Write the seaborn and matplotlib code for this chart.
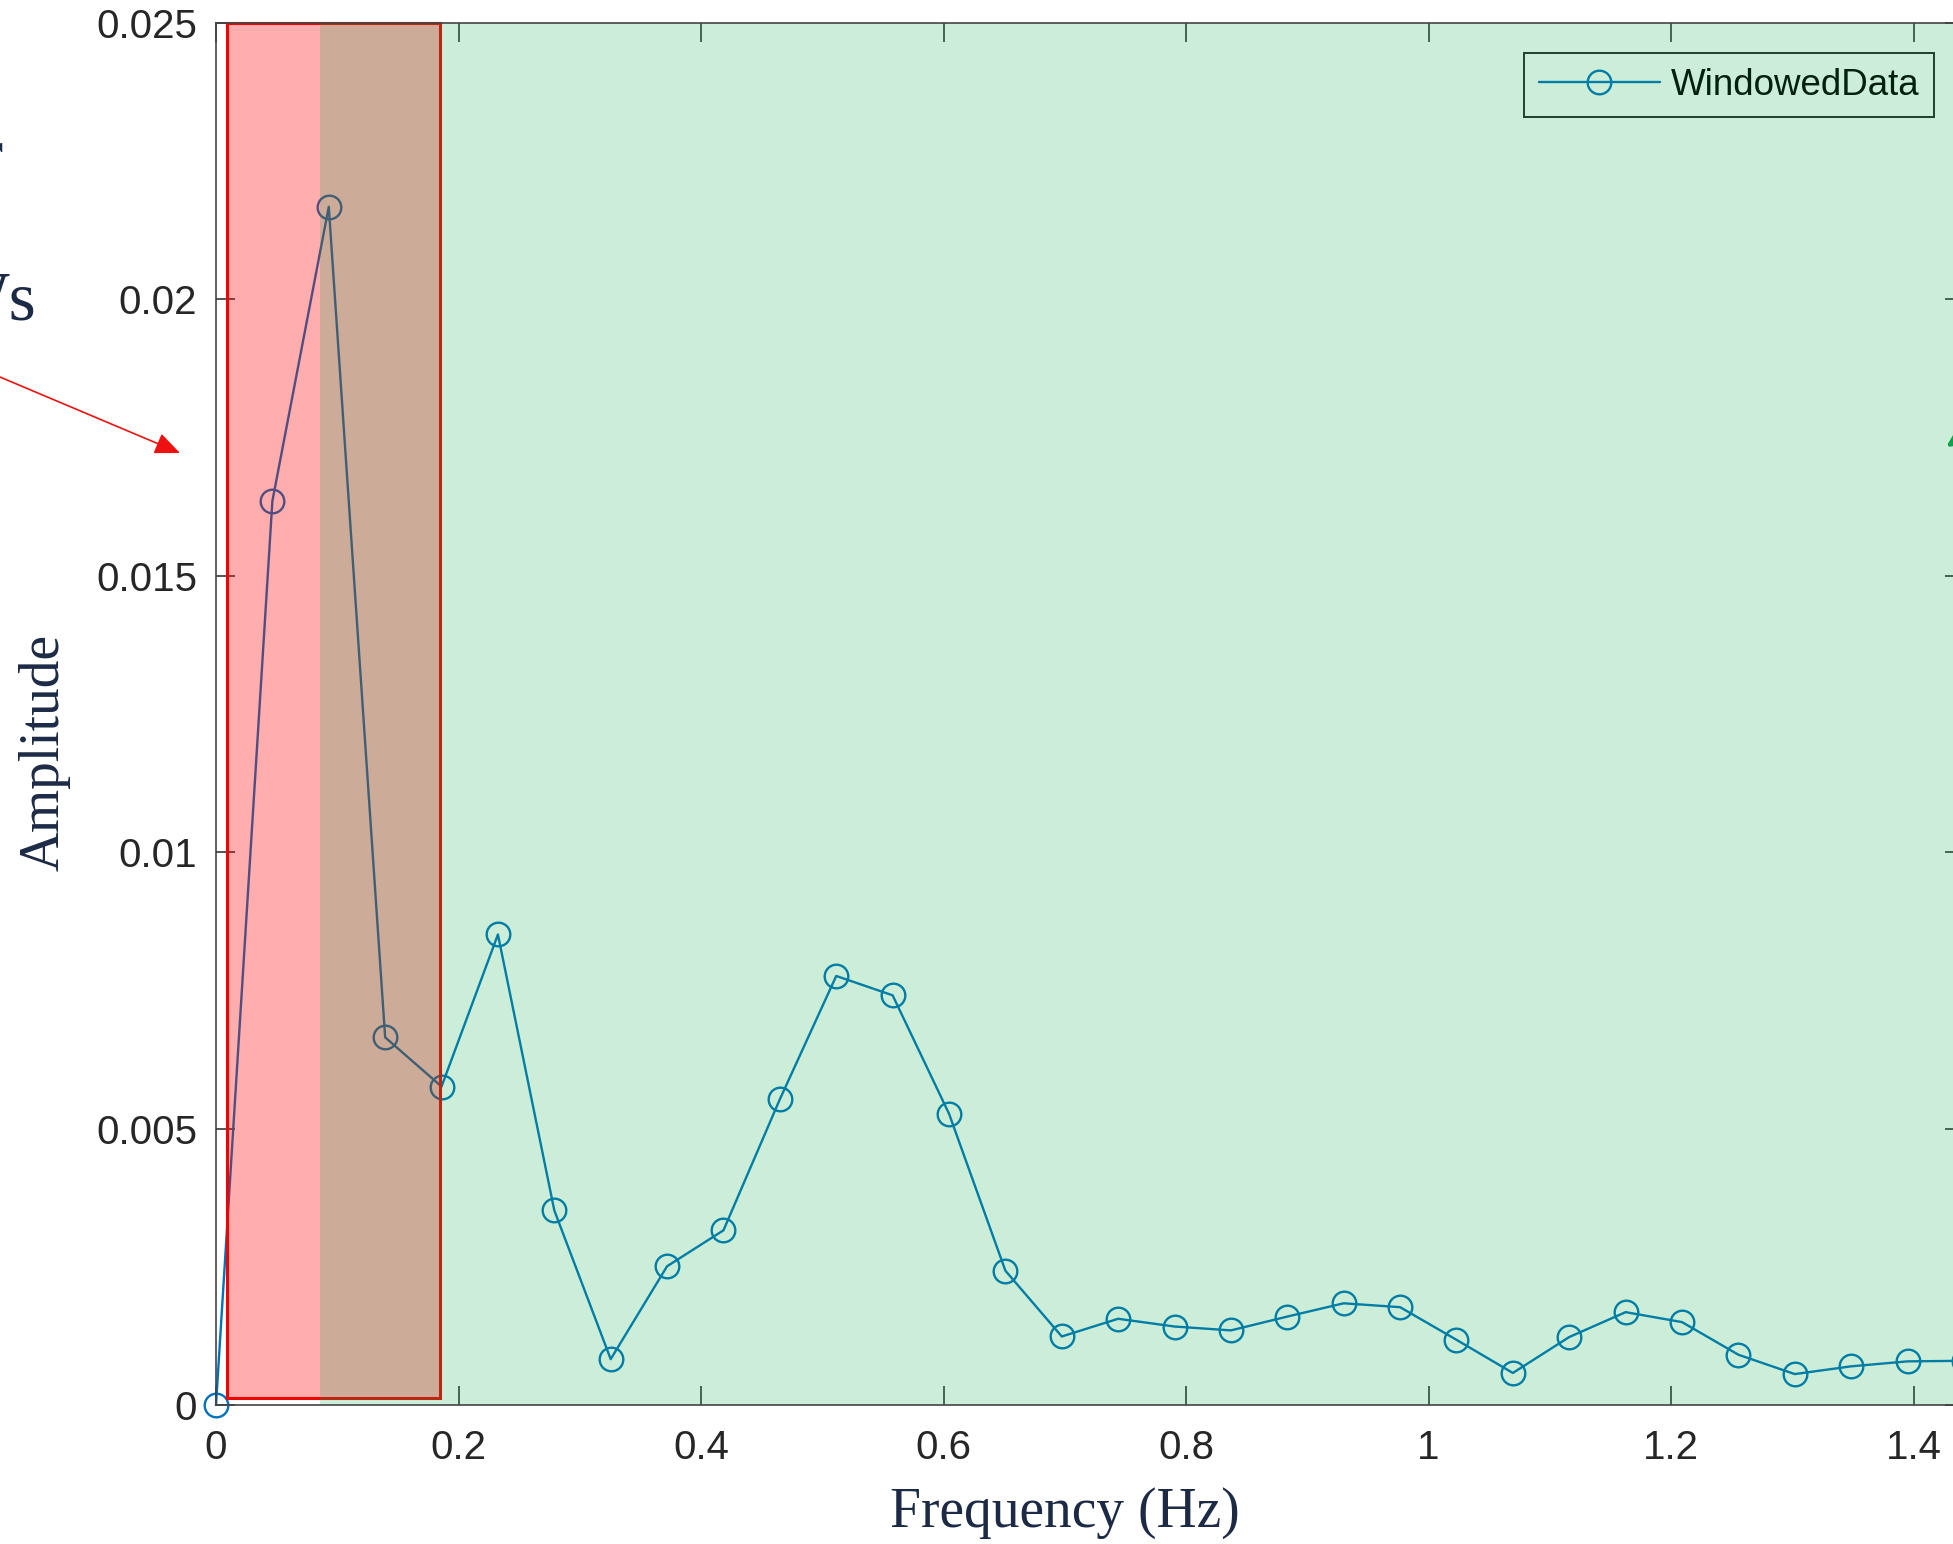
import matplotlib
matplotlib.use("Agg")
import matplotlib.pyplot as plt
from matplotlib.patches import Rectangle, FancyArrowPatch
import pandas as pd
import seaborn as sns

# Spectrum of the windowed signal
freq_hz = [0.0, 0.0465, 0.093, 0.1395, 0.186, 0.2325, 0.279, 0.3255, 0.372, 0.4185,
           0.465, 0.5115, 0.558, 0.6045, 0.651, 0.6975, 0.744, 0.7905, 0.837, 0.8835,
           0.93, 0.9765, 1.023, 1.0695, 1.116, 1.1625, 1.209, 1.2555, 1.302, 1.3485,
           1.395, 1.4415]
amplitude = [0.0, 0.01635, 0.02167, 0.00665, 0.00576, 0.00851, 0.00352, 0.00083,
             0.00251, 0.00316, 0.00553, 0.00776, 0.00741, 0.00527, 0.00243, 0.00124,
             0.00156, 0.00142, 0.00135, 0.00160, 0.00184, 0.00177, 0.00118, 0.00058,
             0.00123, 0.00168, 0.00150, 0.00091, 0.00056, 0.00070, 0.00079, 0.00080]
series_label = "WindowedData"

xtick_values = [0, 0.2, 0.4, 0.6, 0.8, 1.0, 1.2, 1.4]
xtick_labels = ["0", "0.2", "0.4", "0.6", "0.8", "1", "1.2", "1.4"]
ytick_values = [0, 0.005, 0.01, 0.015, 0.02, 0.025]
ytick_labels = ["0", "0.005", "0.01", "0.015", "0.02", "0.025"]

# highlighted frequency bands
low_band = (0.0093, 0.1847)
high_band_start = 0.0858

LINE_BLUE = "#0072BD"
NAVY = "#1c2a45"
SERIF = "Liberation Serif"

sns.set_style("ticks")
plt.rcParams["font.family"] = ["Liberation Sans", "DejaVu Sans"]

fig = plt.figure(figsize=(19.53, 15.44), dpi=100)
ax = fig.add_axes([0.1106, 0.0900, 0.8950, 0.8953])

df = pd.DataFrame({"Frequency": freq_hz, "Amplitude": amplitude})
sns.lineplot(data=df, x="Frequency", y="Amplitude", ax=ax, sort=False, errorbar=None,
             color=LINE_BLUE, linewidth=1.7, marker="o", markersize=17,
             markerfacecolor="none", markeredgecolor=LINE_BLUE, markeredgewidth=1.7,
             label=series_label, zorder=2)
for ln in ax.lines:
    ln.set_clip_on(False)

ax.set_xlim(0, freq_hz[-1])
ax.set_ylim(ytick_values[0], ytick_values[-1])
ax.set_xticks(xtick_values, labels=xtick_labels)
ax.set_yticks(ytick_values, labels=ytick_labels)

leg = ax.legend(loc="upper right", bbox_to_anchor=(0.9828, 0.9781), borderaxespad=0,
                frameon=True, fancybox=False, handlelength=3.3, handletextpad=0.28,
                borderpad=0.4, prop={"family": "Liberation Sans", "size": 26.5})
frame = leg.get_frame()
frame.set_edgecolor("#262626")
frame.set_linewidth(1.4)
frame.set_facecolor("white")
frame.set_alpha(1)
for t in leg.get_texts():
    t.set_color("black")
leg.set_zorder(2.2)

# translucent band overlays
ax.add_patch(Rectangle((low_band[0], 0.00012), low_band[1] - low_band[0], 0.025 - 0.00012,
                       facecolor=(1, 0, 0, 0.32), edgecolor=(0.93, 0.02, 0.02, 1),
                       linewidth=2.2, zorder=2.8, clip_on=False))
ax.axvspan(high_band_start, 1.6, facecolor=(0, 0.67, 0.27), alpha=0.2, linewidth=0, zorder=3)

for s in ax.spines.values():
    s.set_color("#444444")
    s.set_linewidth(1.2)
    s.set_zorder(4)

ax.tick_params(direction="in", length=13.5, width=1.1, color="#262626",
               top=True, right=True, labelsize=29, labelcolor="#262626")
ax.tick_params(axis="x", pad=17)
ax.tick_params(axis="y", pad=13.5)

ax.set_xlabel("Frequency (Hz)", fontsize=40, family=SERIF, color=NAVY, va="center")
ax.xaxis.set_label_coords(0.4857, -0.0781)
ax.set_ylabel("Amplitude", fontsize=40, family=SERIF, color=NAVY, va="center")
ax.yaxis.set_label_coords(-0.0984, 0.4717)

# surrounding slide annotations
W, H = 1953.0, 1544.0
fig.text(3 / W, 1 - 176 / H, "r", ha="right", va="baseline", fontsize=50, family=SERIF, color=NAVY)
fig.text(37 / W, 1 - 320 / H, "Ws", ha="right", va="baseline", fontsize=50, family=SERIF, color=NAVY)
fig.text(974 / W, 1 + 10 / H, "_", ha="center", va="baseline", fontsize=40, family=SERIF, color=NAVY)
fig.text(1500 / W, 1 + 10 / H, "_", ha="center", va="baseline", fontsize=40, family=SERIF, color=NAVY)

fig.add_artist(FancyArrowPatch((-20 / W, 1 - 368.6 / H), (180 / W, 1 - 453 / H),
                               transform=fig.transFigure, arrowstyle="-|>,head_length=0.7,head_width=0.3",
                               mutation_scale=22, color="#ee1111", linewidth=1.2,
                               shrinkA=0, shrinkB=0))
fig.add_artist(FancyArrowPatch((2080 / W, 1 - 360 / H), (1946 / W, 1 - 447 / H),
                               transform=fig.transFigure, arrowstyle="-|>,head_length=1.0,head_width=0.5",
                               mutation_scale=30, color="#0fa050", linewidth=3,
                               shrinkA=0, shrinkB=0))

fig.savefig("out.png", dpi=100)
